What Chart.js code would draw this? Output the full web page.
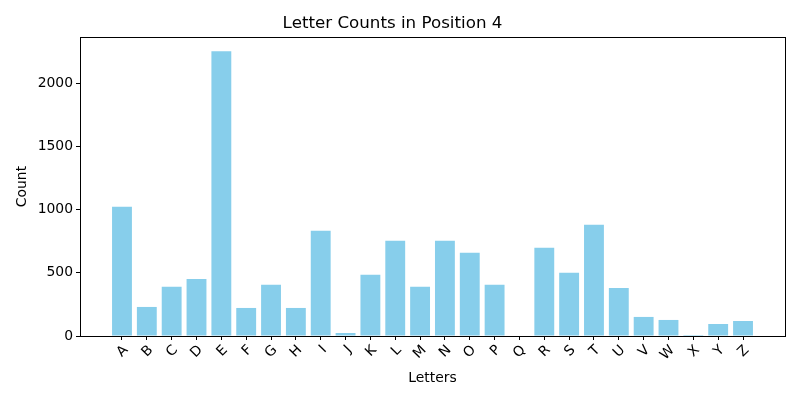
<!DOCTYPE html>
<html>
<head>
<meta charset="utf-8">
<script src="https://cdn.jsdelivr.net/npm/chart.js@4"></script>
<style>
  html, body { margin: 0; padding: 0; background: #fff; }
  #wrap { width: 800px; height: 400px; }
</style>
</head>
<body>
<div id="wrap"><canvas id="grafico" width="800" height="400"></canvas></div>
<script>
// datos
const letras = ['A','B','C','D','E','F','G','H','I','J','K','L','M','N','O','P','Q','R','S','T','U','V','W','X','Y','Z'];
const conteos = [1024, 230, 389, 452, 2254, 222, 405, 222, 833, 24, 484, 754, 389, 754, 659, 405, 0, 698, 500, 881, 381, 151, 127, 8, 95, 119];
const ticksY = [0, 500, 1000, 1500, 2000];

const fuente = 'DejaVu Sans';

// marco completo alrededor del área (como los ejes de matplotlib)
const marco = {
    id: 'marco',
    afterDatasetsDraw(chart) {
        const { ctx, chartArea: a } = chart;
        ctx.save();
        ctx.strokeStyle = '#000';
        ctx.lineWidth = 1;
        ctx.strokeRect(Math.round(a.left) + 0.5, Math.round(a.top) + 0.5,
            Math.round(a.right - a.left), Math.round(a.bottom - a.top));
        ctx.restore();
    }
};

const ctx = document.getElementById('grafico').getContext('2d');
new Chart(ctx, {
    type: 'bar',
    data: {
        datasets: [{
            label: 'Count',
            data: conteos.map((c, i) => ({ x: i, y: c })),
            backgroundColor: '#87CEEB',
            borderWidth: 0,
            barPercentage: 0.8,
            categoryPercentage: 1.0
        }]
    },
    options: {
        responsive: false,
        animation: false,
        layout: { padding: { left: 0, right: 15, top: 0, bottom: 0 } },
        plugins: {
            legend: { display: false },
            tooltip: { enabled: false },
            title: {
                display: true,
                text: 'Letter Counts in Position 4',
                color: '#000',
                font: { family: fuente, size: 16.7, weight: 'normal' },
                padding: { top: 14, bottom: 3 }
            }
        },
        scales: {
            x: {
                type: 'linear',
                min: -1.69,
                max: 26.69,
                offset: false,
                afterBuildTicks: s => { s.ticks = letras.map((_, i) => ({ value: i })); },
                afterFit: s => { s.height = 64; },
                ticks: {
                    autoSkip: false,
                    minRotation: 45,
                    maxRotation: 45,
                    padding: 2,
                    labelOffset: 4,
                    color: '#000',
                    font: { family: fuente, size: 13.9 },
                    callback: v => letras[v]
                },
                grid: { display: true, drawOnChartArea: false, drawTicks: true, tickLength: 4, color: '#000', offset: false },
                border: { display: false },
                title: {
                    display: true,
                    text: 'Letters',
                    color: '#000',
                    font: { family: fuente, size: 13.9 },
                    padding: { top: 0, bottom: 13 }
                }
            },
            y: {
                min: 0,
                max: 2367,
                afterBuildTicks: s => { s.ticks = ticksY.map(v => ({ value: v })); },
                afterFit: s => { s.width = 80; },
                ticks: {
                    padding: 3,
                    color: '#000',
                    font: { family: fuente, size: 13.9 },
                    callback: v => String(v)
                },
                grid: { display: true, drawOnChartArea: false, drawTicks: true, tickLength: 4, color: '#000' },
                border: { display: false },
                title: {
                    display: true,
                    text: 'Count',
                    color: '#000',
                    font: { family: fuente, size: 13.9 },
                    padding: { top: 14, bottom: 0 }
                }
            }
        }
    },
    plugins: [marco]
});
</script>
</body>
</html>
